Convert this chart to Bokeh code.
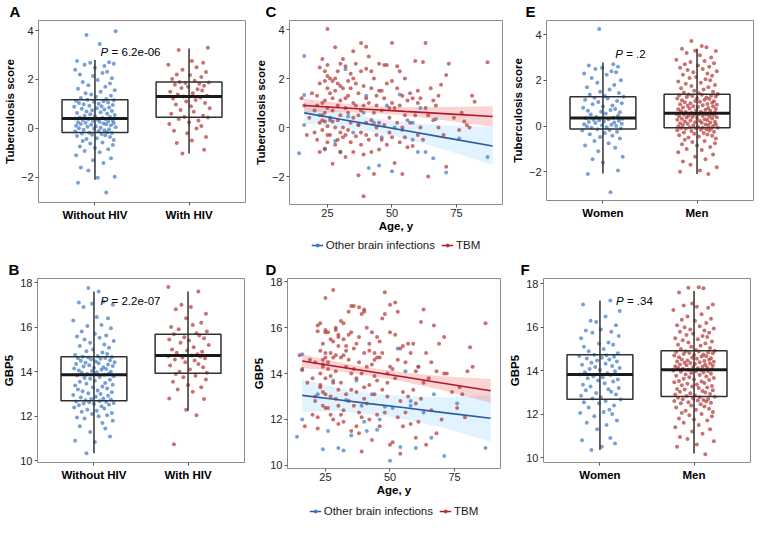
from bokeh.plotting import figure
from bokeh.layouts import row, column
from bokeh.models import Range1d, FixedTicker, Legend, LegendItem
from bokeh.core.properties import value
from bokeh.embed import file_html
from bokeh.resources import INLINE

FONT = "Liberation Sans"
BLUE = "#3D78C2"
RED = "#B23432"
BLUE_LINE = "#2C5C9F"
RED_LINE = "#B2182B"
PT_ALPHA = 0.7

# ---------------- data ----------------
HIV_LABELS = ["Without HIV", "With HIV"]
SEX_LABELS = ["Women", "Men"]
LEGEND_LABELS = ["Other brain infections", "TBM"]

# horizontal jitter offsets (category units)
JITTER = [0.12,-0.18,0.03,0.21,-0.07,-0.15,0.09,-0.02,0.17,-0.2,0.05,-0.11,0.14,0.0,-0.16,0.19,-0.05,0.08,-0.13,0.2,
          -0.09,0.02,0.16,-0.19,0.11,-0.03,0.07,-0.14,0.18,-0.06,0.13,-0.21,0.04,0.1,-0.12,0.15,-0.01,-0.17,0.06,0.22,
          -0.08,0.01,-0.2,0.17,-0.04,0.12,-0.15,0.09,0.2,-0.1,-0.18,0.05,0.14,-0.02,0.19,-0.13,0.03,-0.07,0.11,-0.21,
          0.08,-0.16,0.16,0.0,-0.11,0.21,-0.05,0.13,-0.19,0.06,-0.09,0.18,-0.03,0.1,-0.14,0.02,0.15,-0.22,0.07,-0.06,
          0.19,-0.12,0.04,-0.17,0.14,-0.01,0.09,-0.2,0.2,-0.08,0.12,-0.15,0.01,0.17,-0.04,-0.1,0.06,0.21,-0.18,0.11,
          -0.07,0.16,-0.13,0.03,0.18,-0.02,-0.16,0.08,0.13,-0.21,0.0,0.1,-0.11,0.2,-0.05,0.15,-0.19,0.05,-0.09,0.22,
          0.02,-0.14,0.17,-0.03,0.07,-0.17,0.12,-0.06,0.19,-0.12,0.04,-0.2,0.14,0.09,-0.08,-0.01,0.16,-0.15,0.11,-0.04,
          0.21,-0.1,0.06,-0.18,0.13,0.01,-0.13,0.18,-0.07,0.08,-0.22,0.15,0.03,-0.11,0.2,-0.02,-0.16,0.1,0.05,-0.06]

# Panel A: Tuberculosis score by HIV status
A_WITHOUT = [-2.62,-2.22,-2.02,-1.98,-1.72,-1.6,-1.42,-1.3,-1.22,-1.1,-0.98,-0.92,-0.85,-0.8,-0.74,-0.68,-0.62,-0.58,-0.52,-0.47,
             -0.43,-0.4,-0.35,-0.31,-0.28,-0.26,-0.23,-0.21,-0.19,-0.18,
             -0.16,-0.13,-0.11,-0.08,-0.06,-0.04,-0.02,0.01,0.03,0.05,0.07,0.09,0.11,0.13,0.15,0.17,0.18,0.2,0.22,0.23,
             0.25,0.27,0.29,0.3,0.32,0.34,0.35,0.37,0.38,0.4,
             0.42,0.44,0.47,0.5,0.52,0.55,0.58,0.6,0.63,0.66,0.69,0.71,0.74,0.77,0.8,0.82,0.85,0.88,0.9,0.93,
             0.96,0.99,1.01,1.04,1.06,1.09,1.11,1.13,1.15,1.17,
             1.2,1.24,1.29,1.33,1.38,1.44,1.5,1.56,1.62,1.7,1.76,1.83,1.9,1.98,2.05,2.14,2.2,2.26,2.32,2.4,
             2.48,2.55,2.6,2.64,2.68,2.7,2.75,3.45,3.82,3.97]
A_WITH = [-1.03,-0.87,-0.6,-0.5,-0.35,-0.2,-0.1,0.0,0.1,0.18,0.25,0.32,0.38,0.44,
          0.47,0.52,0.6,0.68,0.75,0.82,0.9,0.98,1.04,1.1,1.16,1.22,1.26,1.3,
          1.33,1.38,1.44,1.5,1.55,1.6,1.65,1.7,1.74,1.78,1.82,1.85,1.88,1.9,
          1.95,2.02,2.1,2.18,2.2,2.3,2.4,2.5,2.6,2.68,2.75,3.2,3.3]
A_LOW = [-2.1, -1.03]
A_Q1 = [-0.17, 0.45]
A_MED = [0.40, 1.30]
A_Q3 = [1.17, 1.90]
A_HIGH = [2.80, 3.27]

# Panel B: GBP5 by HIV status
B_WITHOUT = [10.35,10.85,10.9,11.1,11.3,11.45,11.55,11.7,11.8,11.9,11.95,12.0,12.05,12.1,12.15,12.2,12.25,12.3,12.35,12.4,
             12.45,12.5,12.52,12.55,12.58,12.6,12.63,12.65,12.67,12.69,
             12.72,12.75,12.78,12.8,12.84,12.88,12.92,12.96,13.0,13.04,13.08,13.12,13.16,13.2,13.25,13.3,13.34,13.38,13.42,13.46,
             13.5,13.55,13.6,13.64,13.68,13.72,13.76,13.8,13.84,13.87,
             13.9,13.92,13.95,13.98,14.0,14.03,14.06,14.09,14.12,14.15,14.18,14.2,14.23,14.26,14.29,14.32,14.35,14.38,14.4,14.43,
             14.46,14.49,14.52,14.55,14.58,14.6,14.62,14.64,14.66,14.67,
             14.7,14.75,14.8,14.86,14.92,15.0,15.08,15.15,15.22,15.3,15.38,15.45,15.52,15.58,15.62,15.7,15.8,15.95,16.05,16.1,
             16.3,16.4,16.45,16.9,17.0,17.05,17.1,17.15,17.6,17.75]
B_WITH = [10.75,12.05,12.3,12.78,12.8,13.1,13.2,13.3,13.4,13.55,13.65,13.75,13.82,13.9,
          13.95,14.0,14.1,14.2,14.28,14.35,14.42,14.5,14.55,14.6,14.64,14.68,14.7,14.73,
          14.78,14.85,14.9,14.95,15.0,15.1,15.2,15.3,15.4,15.45,15.5,15.55,15.62,15.68,
          15.72,15.8,15.9,16.0,16.1,16.2,16.4,16.6,16.8,16.9,17.0,17.6,17.8]
B_LOW = [10.35, 12.25]
B_Q1 = [12.70, 13.93]
B_MED = [13.87, 14.73]
B_Q3 = [14.67, 15.68]
B_HIGH = [17.60, 17.60]

# Panels C/D: age (same patients in both panels)
AGE_OTHER = [14,16,16,16,22,24,26,28,30,32,33,35,37,39,40,41,43,45,46,48,50,51,53,54,56,58,60,61,63,66,67,71,76,87,58]
C_OTHER = [-1.05,2.92,1.33,0.1,0.5,-0.9,0.3,-0.55,-1.0,2.38,0.45,-0.2,0.1,0.6,1.3,-1.65,0.2,-1.55,-0.4,0.9,
           -1.78,0.0,1.35,-0.1,0.3,-0.5,-1.0,0.8,-1.0,-1.25,0.35,-1.83,-0.45,-1.2,0.2]
D_OTHER = [11.25,14.15,12.0,14.85,13.1,10.7,11.5,13.7,10.75,10.65,12.85,11.3,13.7,12.6,11.9,11.5,13.1,11.55,12.0,12.55,
           10.2,12.5,15.1,10.8,14.1,12.6,10.75,14.3,12.3,11.2,13.1,10.4,12.7,10.75,12.8]

AGE_TBM = [15,16,17,18,19,20,20,21,
           21,22,22,23,23,23,24,24,24,24,25,25,25,25,25,25,22,23,24,21,22,23,24,25,25,
           26,26,26,27,27,27,27,28,28,28,28,29,29,29,29,30,30,30,30,30,26,27,28,29,30,
           31,31,31,32,32,32,32,33,33,33,34,34,34,35,35,35,35,33,34,31,32,35,
           36,36,36,37,37,37,38,38,38,38,39,39,39,39,40,40,40,40,36,37,38,40,
           41,41,41,42,42,42,43,43,43,44,44,44,45,45,45,42,44,45,
           46,46,47,47,47,48,48,48,49,49,50,50,50,50,46,49,
           51,51,52,52,52,53,53,53,54,54,55,55,55,54,
           56,56,57,57,58,58,59,59,60,60,60,
           61,61,62,62,63,63,64,64,65,
           66,66,67,68,68,69,70,71,71,
           72,74,76,77,79,80,81,82,87,78]
C_TBM = [1.2,0.9,-0.3,0.4,1.4,-0.2,0.7,0.9,
         -0.5,0.2,1.8,0.5,2.8,-0.1,2.3,1.1,-0.85,0.25,4.02,2.1,1.6,0.8,-0.3,0.05,2.45,1.0,0.6,1.3,-1.0,0.3,1.9,2.55,-0.6,
         2.0,0.4,-0.3,1.9,1.2,-1.48,0.7,3.28,2.0,0.0,1.5,-0.5,1.8,0.9,2.3,-0.2,1.1,0.5,2.6,-1.0,1.4,0.25,-0.7,0.3,1.7,
         1.6,0.0,-0.4,2.5,0.8,1.2,-1.2,0.6,1.9,-0.1,2.2,0.2,-0.6,3.12,1.0,-1.0,0.4,1.3,1.6,2.8,-0.3,2.0,
         0.9,-0.35,2.6,1.4,-1.95,0.1,3.45,2.3,0.7,-0.7,-2.8,1.7,0.9,-1.1,2.4,0.2,-0.3,3.3,1.8,0.5,-0.2,1.2,
         2.9,1.0,-0.5,0.3,1.6,-1.0,2.0,0.6,-1.9,1.3,-0.3,0.9,2.6,0.2,-0.9,2.3,0.0,1.5,
         0.7,-0.5,2.55,1.2,0.1,2.55,-0.7,1.8,0.4,-0.2,3.45,1.0,-0.4,1.9,1.5,0.8,
         -1.45,0.8,2.5,1.6,0.2,2.3,-0.6,0.9,-1.9,1.3,0.5,-0.4,2.0,0.0,
         1.1,-0.8,1.4,0.2,-0.75,1.2,2.72,0.5,1.0,-0.3,1.5,
         1.2,0.0,2.68,-0.5,3.45,0.8,-2.0,0.5,1.6,
         0.3,1.1,0.9,1.3,0.0,1.75,-0.3,2.15,-1.6,
         2.6,0.4,-0.1,0.6,0.1,0.0,1.3,1.05,2.67,0.25]
D_TBM = [14.8,14.2,11.7,13.6,14.6,12.2,13.8,14.5,
         13.0,12.1,15.85,13.5,16.2,14.0,15.3,12.6,13.2,14.4,17.3,15.9,14.7,13.8,12.5,14.9,16.1,13.4,14.3,12.8,11.6,15.0,14.6,15.8,13.1,
         15.8,14.2,12.5,15.5,13.0,12.2,14.9,17.65,15.4,13.6,14.7,12.9,15.9,14.1,16.0,13.3,15.2,11.8,15.7,12.6,14.5,13.9,12.0,14.8,15.6,
         16.3,12.2,13.6,15.5,14.8,16.2,11.9,14.3,15.0,13.1,16.7,14.6,12.8,16.95,14.0,11.5,13.3,15.2,15.7,14.7,12.4,15.8,
         14.2,12.6,16.95,15.3,11.7,13.8,16.9,15.6,14.5,12.3,10.6,16.6,14.0,12.1,16.8,13.4,12.9,16.7,15.1,13.2,11.4,14.9,
         16.0,14.3,12.7,13.5,15.3,12.0,15.8,14.4,11.1,14.9,13.1,14.6,15.6,13.7,12.2,15.0,13.9,14.7,
         14.7,11.7,16.4,14.9,13.3,17.55,12.3,16.6,14.0,13.0,17.0,14.3,10.9,15.8,15.4,13.6,
         11.0,14.2,17.1,15.7,13.8,16.7,12.1,14.6,10.5,15.1,13.2,11.7,15.2,12.8,
         14.5,12.3,15.3,13.0,11.8,14.9,15.3,13.3,14.1,12.7,11.2,
         14.3,11.9,16.25,12.9,16.8,13.6,10.9,14.9,13.8,
         14.5,12.4,16.1,14.1,11.4,15.3,12.0,15.6,14.0,
         14.0,13.2,12.5,13.4,12.1,14.1,15.15,14.3,16.2,13.1]

# linear fits with 95% bands (read at these ages)
FIT_AGE = [16, 30, 42, 55, 70, 89]
C_TBM_FIT = [0.90, 0.81, 0.74, 0.66, 0.57, 0.45]
C_TBM_LO = [0.62, 0.63, 0.60, 0.49, 0.30, 0.03]
C_TBM_HI = [1.18, 0.99, 0.88, 0.83, 0.84, 0.87]
C_OTHER_FIT = [0.60, 0.34, 0.12, -0.12, -0.40, -0.75]
C_OTHER_LO = [0.18, 0.02, -0.17, -0.45, -0.88, -1.53]
C_OTHER_HI = [1.02, 0.66, 0.41, 0.21, 0.08, 0.03]
D_TBM_FIT = [14.55, 14.30, 14.09, 13.86, 13.59, 13.25]
D_TBM_LO = [14.25, 14.10, 13.92, 13.66, 13.29, 12.73]
D_TBM_HI = [14.85, 14.50, 14.26, 14.06, 13.89, 13.77]
D_OTHER_FIT = [13.05, 12.86, 12.69, 12.52, 12.31, 12.05]
D_OTHER_LO = [12.33, 12.36, 12.24, 12.02, 11.66, 11.03]
D_OTHER_HI = [13.77, 13.36, 13.14, 13.02, 12.96, 13.07]

# Panel E: Tuberculosis score by sex
E_WOMEN = [-2.9,-2.1,-1.95,-1.6,-1.45,-1.35,-1.1,-0.95,-0.85,-0.75,-0.65,-0.55,-0.48,-0.42,-0.36,-0.3,-0.25,-0.2,-0.17,-0.14,
           -0.11,-0.08,-0.05,-0.02,0.0,0.03,0.06,0.08,0.1,0.13,0.15,0.18,0.2,0.23,0.25,0.28,0.3,0.32,0.34,0.36,
           0.4,0.45,0.5,0.55,0.6,0.63,0.67,0.7,0.75,0.8,0.85,0.9,0.95,1.0,1.05,1.1,1.15,1.2,1.24,1.28,
           1.32,1.38,1.45,1.5,1.6,1.7,1.8,1.9,2.0,2.1,2.25,2.3,2.35,2.4,2.5,2.55,2.6,2.65,2.7,4.25]
E_MEN = [-2.1,-2.0,-1.95,-1.8,-1.7,-1.55,-1.45,-1.35,-1.25,-1.15,-1.05,-1.0,-0.92,-0.85,-0.8,-0.75,-0.7,-0.65,-0.6,-0.55,
         -0.5,-0.46,-0.42,-0.4,-0.37,-0.34,-0.31,-0.28,-0.25,-0.22,-0.2,-0.18,-0.16,-0.14,-0.12,-0.11,-0.1,-0.09,-0.08,-0.07,
         -0.05,-0.03,-0.02,0.0,0.02,0.03,0.05,0.07,0.08,0.1,0.12,0.14,0.15,0.17,0.19,0.2,0.22,0.24,0.26,0.28,
         0.3,0.32,0.33,0.35,0.37,0.38,0.4,0.42,0.43,0.45,0.46,0.48,0.49,0.5,0.51,0.52,0.53,0.54,0.55,0.57,
         0.59,0.61,0.63,0.65,0.67,0.69,0.71,0.73,0.75,0.77,0.79,0.81,0.83,0.85,0.87,0.89,0.91,0.93,0.95,0.97,
         1.0,1.02,1.04,1.06,1.08,1.1,1.13,1.15,1.18,1.2,1.22,1.25,1.27,1.29,1.31,1.33,1.35,1.37,1.38,1.4,
         1.43,1.47,1.5,1.55,1.6,1.65,1.7,1.75,1.8,1.85,1.9,1.95,2.0,2.05,2.1,2.15,2.2,2.25,2.3,2.35,
         2.4,2.45,2.5,2.55,2.6,2.65,2.7,2.75,2.8,2.85,2.9,3.0,3.1,3.2,3.28,3.3,3.38,3.45,3.5,3.72]
E_LOW = [-2.08, -2.10]
E_Q1 = [-0.13, -0.08]
E_MED = [0.35, 0.56]
E_Q3 = [1.28, 1.39]
E_HIGH = [2.78, 3.38]

# Panel F: GBP5 by sex
F_WOMEN = [10.35,10.5,10.65,10.8,10.9,11.3,11.5,11.6,11.7,11.9,12.0,12.05,12.1,12.2,12.3,12.4,12.5,12.55,12.6,12.67,
           12.72,12.78,12.85,12.9,12.97,13.03,13.1,13.15,13.2,13.27,13.35,13.42,13.5,13.55,13.6,13.65,13.7,13.75,13.8,13.83,
           13.88,13.93,13.98,14.03,14.08,14.12,14.17,14.22,14.27,14.32,14.37,14.42,14.47,14.52,14.56,14.6,14.64,14.68,14.71,14.74,
           14.8,14.9,15.0,15.1,15.2,15.25,15.3,15.5,15.6,15.75,15.8,15.85,15.9,16.1,16.25,16.3,16.5,16.75,17.05,17.24]
F_MEN = [10.15,10.5,10.6,10.75,10.85,10.95,11.1,11.2,11.3,11.4,11.5,11.6,11.7,11.75,11.8,11.9,11.95,12.0,12.05,12.1,
         12.15,12.2,12.25,12.3,12.35,12.4,12.45,12.5,12.52,12.55,12.58,12.6,12.63,12.65,12.68,12.7,12.72,12.75,12.78,12.8,
         12.83,12.86,12.9,12.93,12.96,13.0,13.03,13.06,13.1,13.13,13.16,13.2,13.23,13.27,13.3,13.33,13.37,13.4,13.43,13.47,
         13.5,13.53,13.57,13.6,13.63,13.67,13.7,13.73,13.77,13.8,13.83,13.86,13.89,13.92,13.95,13.97,13.99,14.01,14.03,14.05,
         14.07,14.09,14.11,14.13,14.15,14.17,14.19,14.21,14.23,14.25,14.27,14.29,14.31,14.33,14.35,14.37,14.39,14.41,14.43,14.45,
         14.47,14.5,14.52,14.55,14.57,14.6,14.62,14.65,14.67,14.7,14.72,14.75,14.77,14.8,14.82,14.84,14.86,14.88,14.9,14.92,
         14.95,15.0,15.05,15.1,15.15,15.2,15.25,15.3,15.35,15.4,15.45,15.5,15.55,15.6,15.65,15.7,15.75,15.8,15.85,15.9,
         15.95,16.0,16.05,16.1,16.2,16.3,16.35,16.4,16.5,16.6,16.8,16.9,16.95,17.0,17.05,17.1,17.6,17.8,17.85,17.82]
F_LOW = [10.35, 10.19]
F_Q1 = [12.69, 12.81]
F_MED = [13.83, 14.05]
F_Q3 = [14.74, 14.92]
F_HIGH = [17.24, 17.67]

P_TEXTS = {"A": "= 6.2e-06", "B": "= 2.2e-07", "E": "= .2", "F": "= .34"}
P_POS = {"A": (1.06, 3.13), "B": (1.07, 17.15), "E": (1.13, 3.16), "F": (1.17, 17.21)}

# ---------------- helpers ----------------
BOX_W = 0.7


def make_fig(fw, fh, mbl, mbr, mbt, mbb, xr, yr, letter, letter_dx):
    p = figure(frame_width=fw, frame_height=fh, x_range=Range1d(*xr), y_range=Range1d(*yr),
               output_backend="svg", toolbar_location=None,
               min_border_left=mbl, min_border_right=mbr, min_border_top=mbt, min_border_bottom=mbb)
    p.xgrid.visible = False
    p.ygrid.visible = False
    p.outline_line_color = "#8c8c8c"
    p.outline_line_width = 1
    p.background_fill_color = "white"
    p.border_fill_color = "white"
    p.title.text = letter
    p.title.align = "left"
    p.title.offset = letter_dx
    p.title.standoff = 1
    p.title.text_font = FONT
    p.title.text_font_size = "15px"
    p.title.text_font_style = "bold"
    p.title.text_color = "black"
    for ax in (p.xaxis[0], p.yaxis[0]):
        ax.axis_line_color = None
        ax.major_tick_line_color = "#555555"
        ax.major_tick_out = 3
        ax.major_tick_in = 0
        ax.minor_tick_line_color = None
        ax.major_label_text_font = FONT
        ax.major_label_text_font_size = "11px"
        ax.major_label_text_color = "#262626"
        ax.axis_label_text_font = FONT
        ax.axis_label_text_font_size = "11.5px"
        ax.axis_label_text_font_style = "bold"
        ax.axis_label_text_color = "black"
        ax.major_label_standoff = 2
        ax.axis_label_standoff = 2
    return p


def box_panel(p, groups, jit_starts, low, q1, med, q3, high, labels, ylabel, yticks, key):
    cats = [1, 2]
    cols = [BLUE, RED]
    for c, ys, js, col in zip(cats, groups, jit_starts, cols):
        jit = JITTER[js:js + len(ys)]
        n = min(len(jit), len(ys))
        p.scatter([c + j for j in jit[:n]], ys[:n], size=4, marker="circle",
                  fill_color=col, fill_alpha=PT_ALPHA, line_color=None)
    p.segment(x0=cats, y0=low, x1=cats, y1=high, line_color="#303030", line_width=1.5)
    p.vbar(x=cats, bottom=q1, top=q3, width=BOX_W, fill_color=None, line_color="#303030", line_width=1.5)
    p.segment(x0=[c - BOX_W / 2 for c in cats], y0=med, x1=[c + BOX_W / 2 for c in cats], y1=med,
              line_color="#1a1a1a", line_width=3)
    px, py = P_POS[key]
    p.text(x=[px], y=[py], text=["P"], text_font=value(FONT), text_font_style="italic",
           text_font_size="11.5px", text_baseline="middle", text_align="left", text_color="black")
    p.text(x=[px], y=[py], text=[P_TEXTS[key]], text_font=value(FONT), x_offset=11,
           text_font_size="11.5px", text_baseline="middle", text_align="left", text_color="black")
    p.xaxis.ticker = FixedTicker(ticks=cats)
    p.xaxis.major_label_overrides = {1: labels[0], 2: labels[1]}
    p.xaxis.major_label_text_font_style = "bold"
    p.xaxis.major_label_text_font_size = "11.5px"
    p.xaxis.major_label_text_color = "black"
    p.xaxis.major_label_standoff = 3
    p.yaxis.ticker = FixedTicker(ticks=yticks)
    p.yaxis.axis_label = ylabel


def age_panel(p, y_other, y_tbm, fits, ylabel, yticks):
    (o_fit, o_lo, o_hi, t_fit, t_lo, t_hi) = fits
    p.varea(x=FIT_AGE, y1=o_lo, y2=o_hi, fill_color="#87CEFA", fill_alpha=0.25)
    p.varea(x=FIT_AGE, y1=t_lo, y2=t_hi, fill_color="#F08080", fill_alpha=0.35)
    p.scatter(AGE_OTHER, y_other, size=4, marker="circle", fill_color=BLUE, fill_alpha=PT_ALPHA, line_color=None)
    p.scatter(AGE_TBM, y_tbm, size=4, marker="circle", fill_color=RED, fill_alpha=PT_ALPHA, line_color=None)
    p.line(FIT_AGE, o_fit, line_color=BLUE_LINE, line_width=1.6)
    p.line(FIT_AGE, t_fit, line_color=RED_LINE, line_width=1.6)
    p.xaxis.ticker = FixedTicker(ticks=[25, 50, 75])
    p.xaxis.axis_label = "Age, y"
    p.xaxis.axis_label_standoff = 0
    p.xaxis.major_label_standoff = 1
    p.yaxis.ticker = FixedTicker(ticks=yticks)
    p.yaxis.axis_label = ylabel


def legend_fig(fw, mbl, mbr, h):
    # a strip below the age panel that carries only the shared legend;
    # its key renderers hold one point placed outside the strip's visible range
    q = figure(frame_width=fw, frame_height=h, x_range=Range1d(0, 1), y_range=Range1d(0, 1),
               output_backend="svg", toolbar_location=None,
               x_axis_location=None, y_axis_location=None,
               min_border_left=mbl, min_border_right=mbr, min_border_top=0, min_border_bottom=0)
    q.xgrid.visible = False
    q.ygrid.visible = False
    q.outline_line_color = None
    q.border_fill_color = "white"
    items = []
    for lab, lc, pc in zip(LEGEND_LABELS, [BLUE_LINE, RED_LINE], [BLUE, RED]):
        lr = q.line([-5, -4], [-5, -4], line_color=lc, line_width=1.6)
        sr = q.scatter([-5], [-5], size=4, marker="circle", fill_color=pc, fill_alpha=0.9, line_color=None)
        items.append(LegendItem(label=lab, renderers=[lr, sr]))
    leg = Legend(items=items, orientation="horizontal", location="center",
                 label_text_font=FONT, label_text_font_size="11.5px", label_text_color="#1a1a1a",
                 glyph_width=12, glyph_height=10, label_height=10, label_standoff=3, spacing=6,
                 padding=0, margin=0, border_line_color=None, background_fill_alpha=0)
    q.add_layout(leg)
    return q


BOX_X = (0.4, 2.6)
AGE_X = (10.3, 92.8)

# Row 1
pA = make_fig(207, 182, 31, 6, 18, 50, BOX_X, (-3.03, 4.41), "A", -29)
box_panel(pA, [A_WITHOUT, A_WITH], [0, 100], A_LOW, A_Q1, A_MED, A_Q3, A_HIGH, HIV_LABELS,
          "Tuberculosis score", [-2, 0, 2, 4], "A")

pC = make_fig(213, 184, 37, 6, 18, 33, AGE_X, (-3.14, 4.37), "C", -24)
age_panel(pC, C_OTHER, C_TBM, (C_OTHER_FIT, C_OTHER_LO, C_OTHER_HI, C_TBM_FIT, C_TBM_LO, C_TBM_HI),
          "Tuberculosis score", [-2, 0, 2, 4])
legC = legend_fig(213, 37, 6, 15)

pE = make_fig(207, 180, 35, 2, 18, 52, BOX_X, (-3.26, 4.62), "E", -21)
box_panel(pE, [E_WOMEN, E_MEN], [60, 0], E_LOW, E_Q1, E_MED, E_Q3, E_HIGH, SEX_LABELS,
          "Tuberculosis score", [-2, 0, 2, 4], "E")

# Row 2
pB = make_fig(207, 184, 31, 6, 26, 58, BOX_X, (9.93, 18.18), "B", -29)
box_panel(pB, [B_WITHOUT, B_WITH], [40, 5], B_LOW, B_Q1, B_MED, B_Q3, B_HIGH, HIV_LABELS,
          "GBP5", [10, 12, 14, 16, 18], "B")

pD = make_fig(213, 190, 37, 6, 26, 35, AGE_X, (9.86, 18.15), "D", -22)
age_panel(pD, D_OTHER, D_TBM, (D_OTHER_FIT, D_OTHER_LO, D_OTHER_HI, D_TBM_FIT, D_TBM_LO, D_TBM_HI),
          "GBP5", [10, 12, 14, 16, 18])
legD = legend_fig(213, 37, 6, 15)

pF = make_fig(207, 184, 35, 2, 26, 58, BOX_X, (9.77, 18.25), "F", -23)
box_panel(pF, [F_WOMEN, F_MEN], [20, 0], F_LOW, F_Q1, F_MED, F_Q3, F_HIGH, SEX_LABELS,
          "GBP5", [10, 12, 14, 16, 18], "F")

layout = column(row(pA, column(pC, legC), pE), row(pB, column(pD, legD), pF))

with open("out.html", "w") as f:
    f.write(file_html(layout, INLINE))
